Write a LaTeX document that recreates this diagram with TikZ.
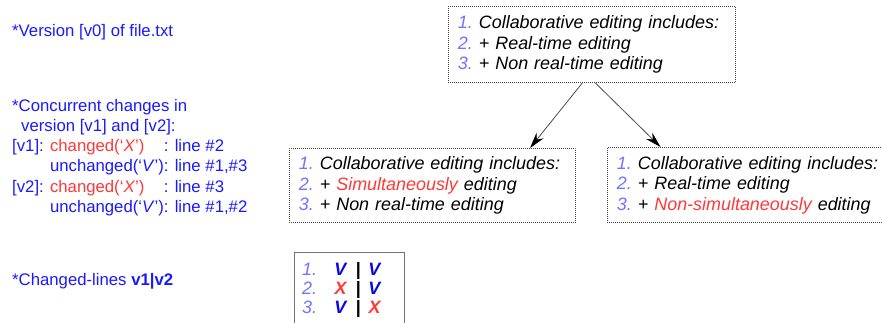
\documentclass[tikz,border=0pt]{standalone}
\usepackage{fontspec}
\setmainfont{Liberation Sans}
\usetikzlibrary{arrows.meta}
\definecolor{txtblue}{HTML}{1A1AFF}
\definecolor{chred}{HTML}{FF3838}
\definecolor{numblue}{HTML}{7373FF}
\definecolor{markblue}{HTML}{0A0AE6}
\newcommand{\vmark}{\textcolor{markblue}{\textbf{\textit{V}}}}
\newcommand{\xmark}{\textcolor{chred}{\textbf{\textit{X}}}}
\newcommand{\lnum}[1]{\textcolor{numblue}{#1.}\ }
\tikzset{
  filebox/.style={draw=black!75, dash pattern=on 0.9bp off 1.1bp, line width=0.9bp,
    inner xsep=9.5bp, inner ysep=0pt, align=left, anchor=north west,
    font=\fontsize{18}{20.5}\selectfont\itshape},
  note/.style={anchor=base west, inner sep=0pt, text=txtblue,
    font=\fontsize{16.8}{20.3}\selectfont},
  cell/.style={anchor=base, inner sep=0pt, font=\fontsize{18}{19.3}\selectfont}
}
\begin{document}
\begin{tikzpicture}[>={Stealth[length=16bp, width=9bp, color=black]}, x=1bp, y=-1bp]
\useasboundingbox[fill=white] (0,0) rectangle (882,322);

% left column
\node[note] (ver) at (12,36) {*Version [v0] of file.txt};
\node[note] (conc) at (12,111) {*Concurrent changes in};
\node[note] (conc2) at (21,131.3) {version [v1] and [v2]:};
\node[note] (diff) at (12,151.6) {%
  \begin{tabular}[t]{@{}l@{ }l@{}l@{}}
    [v1]: & \textcolor{chred}{changed(‘\textit{X}’)} & : line \#2\\
          & unchanged(‘\textit{V}’) & : line \#1,\#3\\
    {[v2]:} & \textcolor{chred}{changed(‘\textit{X}’)} & : line \#3\\
          & unchanged(‘\textit{V}’) & : line \#1,\#2
  \end{tabular}};
\node[note] (chg) at (12,285) {*Changed-lines \textbf{v1|v2}};

% file versions
\node[filebox, text width=268bp, minimum height=76bp] (v0) at (448,6)
  {\lnum{1}Collaborative editing includes:\\
   \lnum{2}+ Real-time editing\\
   \lnum{3}+ Non real-time editing};
\node[filebox, text width=267bp, minimum height=74bp] (v1) at (289,148)
  {\lnum{1}Collaborative editing includes:\\
   \lnum{2}+ \textcolor{chred}{Simultaneously} editing\\
   \lnum{3}+ Non real-time editing};
\node[filebox, text width=266bp, minimum height=75bp] (v2) at (607,147)
  {\lnum{1}Collaborative editing includes:\\
   \lnum{2}+ Real-time editing\\
   \lnum{3}+ \textcolor{chred}{Non-simultaneously} editing};

\draw[->, draw=black!70, line width=0.8bp] (v0.256) -- (v1.21);
\draw[->, draw=black!70, line width=0.8bp] (v0.275) -- (v2.157);

% changed lines
\node[draw=black!55, line width=1.2bp, minimum width=110bp, minimum height=80bp,
  anchor=north west] (cmp) at (294,252) {};
\foreach \i/\a/\b in {1/\vmark/\vmark, 2/\xmark/\vmark, 3/\vmark/\xmark}
{
    \node[cell, anchor=base west] (num\i) at (302,256+19.3*\i) {\textcolor{numblue}{\textit{\i.}}};
    \node[cell] (a\i) at (341,256+19.3*\i) {\a};
    \node[cell] (bar\i) at (358.5,256+19.3*\i) {\textbf{|}};
    \node[cell] (b\i) at (375,256+19.3*\i) {\b};
}

\end{tikzpicture}
\end{document}
